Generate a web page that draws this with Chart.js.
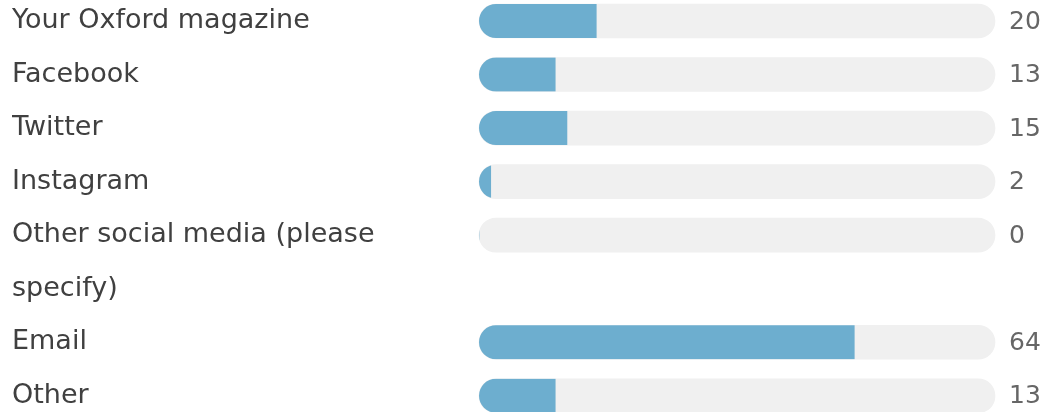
<!DOCTYPE html>
<html>
<head>
<meta charset="utf-8">
<script src="https://cdn.jsdelivr.net/npm/chart.js@4"></script>
<style>
  html, body { margin: 0; padding: 0; background: #ffffff; }
  #wrap { width: 1046px; height: 412px; }
</style>
</head>
<body>
<div id="wrap"><canvas id="chart"></canvas></div>
<script>
// answers (a wrapped label is given as its lines)
const categories = [
  'Your Oxford magazine',
  'Facebook',
  'Twitter',
  'Instagram',
  ['Other social media (please', 'specify)'],
  'Email',
  'Other'
];
const responses = [20, 13, 15, 2, 0, 64, 13];
const totalResponses = 88;

// one slot per text line, so the wrapped label gets its own room
const slotLabels = [];
const slotValues = [];
const slotTrack = [];
const slotCount = [];
categories.forEach((c, i) => {
  const lines = Array.isArray(c) ? c : [c];
  lines.forEach((line, j) => {
    slotLabels.push(line);
    slotValues.push(j === 0 ? responses[i] : null);
    slotTrack.push(j === 0 ? totalResponses : null);
    slotCount.push(j === 0 ? String(responses[i]) : '');
  });
});

const BLUE = '#6daecf';
const TRACK = '#f0f0f0';

// clip the blue fill to the rounded grey track
const clipToTrack = {
  id: 'clipToTrack',
  beforeDatasetDraw(chart, args) {
    if (args.index !== 0) return;
    const ctx = chart.ctx;
    const track = chart.getDatasetMeta(1).data;
    ctx.save();
    ctx.beginPath();
    track.forEach((bar, i) => {
      if (slotTrack[i] == null) return;
      const h = bar.height;
      const left = Math.min(bar.base, bar.x);
      const w = Math.abs(bar.x - bar.base);
      ctx.roundRect(left, bar.y - h / 2, w, h, h / 2);
    });
    ctx.clip();
  },
  afterDatasetDraw(chart, args) {
    if (args.index !== 0) return;
    chart.ctx.restore();
  }
};

// counts to the right of each track
const countLabels = {
  id: 'countLabels',
  afterDatasetsDraw(chart) {
    const ctx = chart.ctx;
    const y = chart.scales.y;
    ctx.save();
    ctx.font = '25px "DejaVu Sans"';
    ctx.fillStyle = '#666666';
    ctx.textAlign = 'left';
    ctx.textBaseline = 'middle';
    slotCount.forEach((t, i) => {
      if (!t) return;
      ctx.fillText(t, chart.chartArea.right + 14, y.getPixelForValue(i) + 1);
    });
    ctx.restore();
  }
};

new Chart(document.getElementById('chart'), {
  type: 'bar',
  data: {
    labels: slotLabels,
    datasets: [
      {
        label: 'Responses',
        data: slotValues,
        backgroundColor: BLUE,
        borderWidth: 0,
        borderRadius: 0,
        barThickness: 34,
        grouped: false,
        clip: false,
        order: 1
      },
      {
        label: 'Track',
        data: slotTrack,
        backgroundColor: TRACK,
        borderWidth: 0,
        borderSkipped: false,
        borderRadius: 17,
        barThickness: 34,
        grouped: false,
        clip: false,
        order: 2
      }
    ]
  },
  options: {
    indexAxis: 'y',
    responsive: true,
    maintainAspectRatio: false,
    animation: false,
    layout: { padding: { left: 12, right: 51, top: 21, bottom: 15 } },
    plugins: {
      legend: { display: false },
      tooltip: { enabled: false }
    },
    scales: {
      x: {
        display: false,
        min: 0,
        max: totalResponses
      },
      y: {
        offset: false,
        grid: { display: false },
        border: { display: false },
        ticks: {
          crossAlign: 'far',
          color: '#404040',
          font: { family: 'DejaVu Sans', size: 27 },
          padding: 0
        },
        afterFit(scale) { scale.width = 467; }
      }
    }
  },
  plugins: [clipToTrack, countLabels]
});
</script>
</body>
</html>
